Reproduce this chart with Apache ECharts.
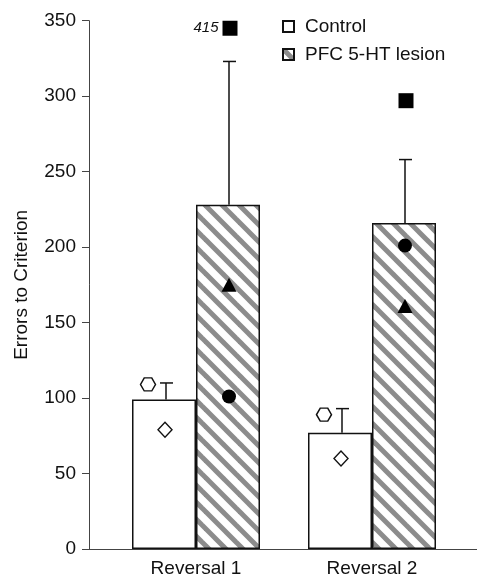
<!DOCTYPE html>
<html>
<head>
<meta charset="utf-8">
<script src="https://cdn.jsdelivr.net/npm/echarts@6/dist/echarts.min.js"></script>
<style>
  html, body { margin: 0; padding: 0; background: #fff; }
  #main { width: 477px; height: 579px; }
</style>
</head>
<body>
<div id="main"></div>
<script>
// data
const categories = ['Reversal 1', 'Reversal 2'];
const controlMean = [99, 77];
const controlErrTop = [110, 93];
const lesionMean = [228, 216];
const lesionErrTop = [323, 258];
// individual animals
const ctrlHexagon = [109, 89];
const ctrlDiamond = [79, 60];
const lesionCircle = [101, 201];
const lesionTriangle = [175, 161];
const lesionSquare = [415, 297];
const yTicks = [0, 50, 100, 150, 200, 250, 300, 350];

const AXIS_BREAK = 345; // values above this are drawn at the top with their number
const BAR_W = 64;
const FONT = '"Liberation Sans", Arial, Helvetica, sans-serif';

// hatch pattern for the lesion bars (two stripes per tile, lines run past the edges)
function makeHatch() {
  const P = 34, step = 17;
  const c = document.createElement('canvas');
  c.width = P; c.height = P;
  const ctx = c.getContext('2d');
  ctx.fillStyle = '#fff';
  ctx.fillRect(0, 0, P, P);
  ctx.strokeStyle = '#8c8c8c';
  ctx.lineWidth = 5;
  ctx.lineCap = 'square';
  for (let k = -P; k <= P; k += step) {
    ctx.beginPath();
    ctx.moveTo(k - 4, -4);
    ctx.lineTo(k + P + 4, P + 4);
    ctx.stroke();
  }
  return c;
}
const hatch = { image: makeHatch(), repeat: 'repeat' };

const chart = echarts.init(document.getElementById('main'), null, { renderer: 'canvas' });

function errorBar(side) {
  return function (params, api) {
    const base = api.coord([api.value(0), api.value(1)]);
    const top = api.coord([api.value(0), api.value(2)]);
    const x = base[0] + side * BAR_W / 2 + (side < 0 ? 2 : 1);
    const style = { stroke: '#111', lineWidth: 1.5 };
    return {
      type: 'group',
      children: [
        { type: 'line', shape: { x1: x, y1: base[1], x2: x, y2: top[1] }, style: style },
        { type: 'line', shape: { x1: x - 6, y1: top[1], x2: x + 7, y2: top[1] }, style: style }
      ]
    };
  };
}

const hexPath = 'path://M0,5 L3,0 L9,0 L12,5 L9,10 L3,10 Z';
const hollow = { color: '#fff', borderColor: '#111', borderWidth: 1.4, opacity: 1 };
const solid = { color: '#000', opacity: 1 };

const option = {
  animation: false,
  backgroundColor: '#fff',
  textStyle: { fontFamily: FONT },
  grid: [
    { left: 108, right: 17, top: 20.7, bottom: 30 },
    { left: 89, right: 0, top: 20.7, bottom: 30 }
  ],
  legend: {
    orient: 'vertical',
    left: 282,
    top: 17,
    padding: 0,
    itemWidth: 11,
    itemHeight: 11,
    itemGap: 9,
    icon: 'rect',
    data: ['Control', 'PFC 5-HT lesion'],
    textStyle: { fontSize: 19, color: '#111', fontFamily: FONT, padding: [0, 0, 0, 6] }
  },
  xAxis: [
    {
      type: 'category',
      gridIndex: 0,
      data: categories,
      axisLine: { show: false },
      axisTick: { show: false },
      axisLabel: { fontSize: 19, color: '#111', margin: 10, fontFamily: FONT }
    },
    {
      type: 'value',
      gridIndex: 1,
      axisLine: { show: true, lineStyle: { color: '#444', width: 1 } },
      axisTick: { show: false },
      axisLabel: { show: false },
      splitLine: { show: false }
    }
  ],
  yAxis: [
    {
      type: 'value',
      gridIndex: 0,
      min: yTicks[0],
      max: yTicks[yTicks.length - 1],
      interval: yTicks[1] - yTicks[0],
      offset: 19,
      name: 'Errors to Criterion',
      nameLocation: 'middle',
      nameGap: 58,
      nameTextStyle: { fontSize: 19, color: '#111', fontFamily: FONT },
      axisLine: { show: true, lineStyle: { color: '#444', width: 1 } },
      axisTick: { show: true, inside: false, length: 7, lineStyle: { color: '#444' } },
      axisLabel: { fontSize: 19, color: '#111', margin: 13, fontFamily: FONT },
      splitLine: { show: false }
    },
    { type: 'value', gridIndex: 1, show: false }
  ],
  series: [
    {
      name: 'Control',
      type: 'bar',
      barWidth: BAR_W,
      barGap: '0%',
      data: controlMean,
      itemStyle: { color: '#fff', borderColor: '#111', borderWidth: 1.5 },
      z: 2
    },
    {
      name: 'PFC 5-HT lesion',
      type: 'bar',
      barWidth: BAR_W,
      barGap: '0%',
      data: lesionMean,
      itemStyle: { color: hatch, borderColor: '#111', borderWidth: 1.5 },
      z: 2
    },
    {
      type: 'custom',
      renderItem: errorBar(-1),
      data: categories.map(function (c, i) { return [i, controlMean[i], controlErrTop[i]]; }),
      z: 3
    },
    {
      type: 'custom',
      renderItem: errorBar(1),
      data: categories.map(function (c, i) { return [i, lesionMean[i], lesionErrTop[i]]; }),
      z: 3
    },
    {
      type: 'scatter', data: ctrlHexagon, symbol: hexPath, symbolSize: [15, 13],
      symbolOffset: [-48, 0], itemStyle: hollow, z: 4
    },
    {
      type: 'scatter', data: ctrlDiamond, symbol: 'diamond', symbolSize: [14, 15],
      symbolOffset: [-31, 0], itemStyle: hollow, z: 4
    },
    {
      type: 'scatter', data: lesionCircle, symbol: 'circle', symbolSize: 14,
      symbolOffset: [33, 0], itemStyle: solid, z: 4
    },
    {
      type: 'scatter', data: lesionTriangle, symbol: 'triangle', symbolSize: [15, 14],
      symbolOffset: [33, 0], itemStyle: solid, z: 4
    },
    {
      type: 'scatter',
      data: lesionSquare.map(function (v) {
        return { value: Math.min(v, AXIS_BREAK), real: v, clipped: v > AXIS_BREAK };
      }),
      symbol: 'rect', symbolSize: 15,
      symbolOffset: [34, 0], itemStyle: solid, z: 4,
      label: {
        show: true,
        position: 'left',
        distance: 4,
        fontStyle: 'italic',
        fontSize: 15,
        color: '#111',
        fontFamily: FONT,
        formatter: function (p) { return p.data.clipped ? String(p.data.real) : ''; }
      }
    }
  ]
};

chart.setOption(option);
</script>
</body>
</html>
